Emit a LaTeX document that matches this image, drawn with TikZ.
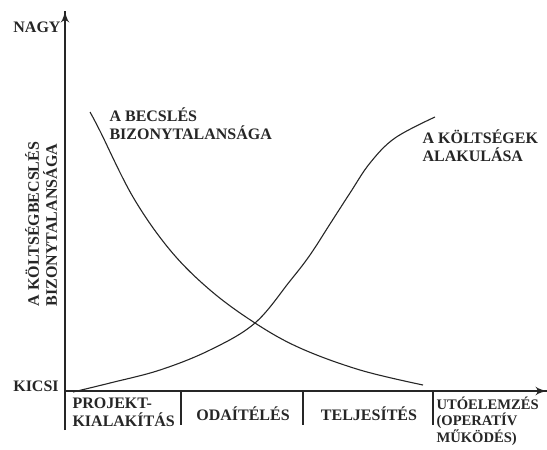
\documentclass[tikz,border=0pt]{standalone}
\usepackage{fontspec}
\setmainfont{Liberation Serif}
\usetikzlibrary{arrows}
\usetikzlibrary{decorations.markings}
\tikzset{axisarrow/.style = {decoration={markings,
                                          mark=at position 1 with {\arrow[scale=1.9]{latex'}}},
                              postaction={decorate}}}
\tikzset{lbl/.style = {font=\fontsize{16}{18}\selectfont\bfseries, inner sep=0pt, align=left}}

\begin{document}
\begin{tikzpicture}[x=1pt, y=-1pt, line width=1.1pt, color=black!85]
      \useasboundingbox (0,0) rectangle (547,450);
      \coordinate (O) at (65,391);
      \coordinate (ytop) at (65,11);
      \coordinate (ybot) at (65,430);
      \coordinate (xend) at (547,391);
      \draw [axisarrow] (ybot) -- (ytop);
      \draw [axisarrow] (O) -- (xend);
      \foreach \x/\n in {181/a, 303/b, 433/c} {
        \coordinate (tick\n) at (\x,391);
        \coordinate (tick\n end) at (\x,425);
        \draw (tick\n) -- (tick\n end);
      }
      \draw plot [smooth, tension=0.6] coordinates {(90,112) (100,131) (133,197) (170,250)
        (210,290) (255,323) (300,348) (360,370) (423,385)};
      \draw plot [smooth, tension=0.6] coordinates {(73,392) (110,383) (160,370) (210,350)
        (255,323) (290,281) (310,255) (330,224) (350,193) (370,163) (395,138) (435,117)};
      \node [lbl] (nagy) at (37,27) {NAGY};
      \node [lbl] (kicsi) at (36,386) {KICSI};
      \node [lbl, rotate=90] (ytitle) at (41,224) {A KÖLTSÉGBECSLÉS\\BIZONYTALANSÁGA};
      \node [lbl, anchor=west] (becsles) at (109,124) {A BECSLÉS\\BIZONYTALANSÁGA};
      \node [lbl, anchor=west] (koltseg) at (422,146) {A KÖLTSÉGEK\\ALAKULÁSA};
      \node [lbl, anchor=west] (projekt) at (72,412) {PROJEKT-\\KIALAKÍTÁS};
      \node [lbl] (odaiteles) at (243,414) {ODAÍTÉLÉS};
      \node [lbl] (teljesites) at (369,414) {TELJESÍTÉS};
      \node [lbl, anchor=west, font=\fontsize{14.6}{16.5}\selectfont\bfseries] (utoelemzes) at (436,421) {UTÓELEMZÉS\\(OPERATÍV\\MŰKÖDÉS)};
    \end{tikzpicture}
\end{document}
